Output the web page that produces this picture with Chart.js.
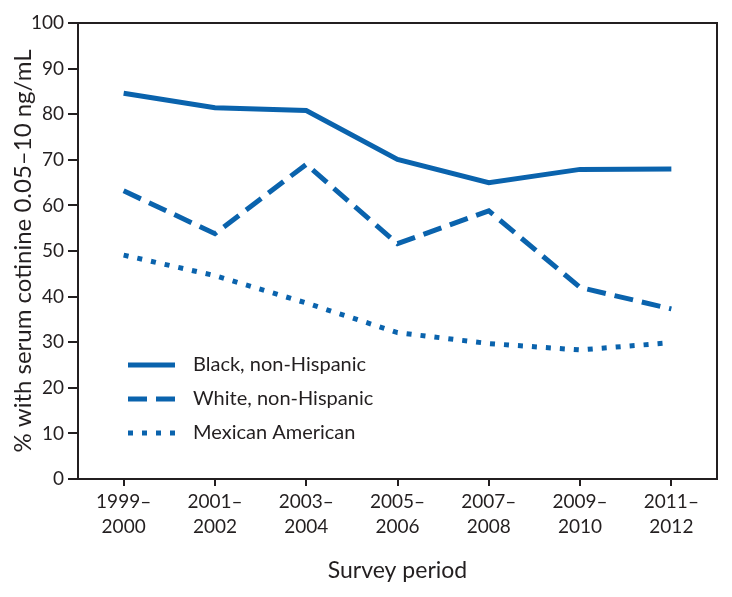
<!DOCTYPE html>
<html>
<head>
<meta charset="utf-8">
<script src="https://cdn.jsdelivr.net/npm/chart.js@4"></script>
<style>
  html, body { margin: 0; padding: 0; background: #fff; }
  #wrap { width: 732px; height: 597px; }
</style>
</head>
<body>
<div id="wrap"><canvas id="line-chart"></canvas></div>
<script>
const periods = [["1999–","2000"],["2001–","2002"],["2003–","2004"],["2005–","2006"],["2007–","2008"],["2009–","2010"],["2011–","2012"]];
const black = [84.6, 81.4, 80.8, 70.1, 65.0, 67.9, 68.0];
const white = [63.2, 53.8, 69.0, 51.6, 58.8, 42.0, 37.3];
const mexican = [49.1, 44.6, 38.6, 32.1, 29.7, 28.3, 29.9];

const blue = "#0a63ad";
const ink = "#231f20";
const fontFam = "Lato, 'Noto Sans', sans-serif";

// box round the plot area
const frame = {
  id: "frame",
  afterDraw(chart) {
    const a = chart.chartArea, c = chart.ctx;
    c.save();
    c.strokeStyle = ink;
    c.lineWidth = 2;
    c.strokeRect(a.left, a.top, a.right - a.left, a.bottom - a.top);
    c.restore();
  }
};

// legend drawn inside the plot, lower left
const innerLegend = {
  id: "innerLegend",
  afterDatasetsDraw(chart) {
    const a = chart.chartArea, c = chart.ctx;
    const x0 = a.left + 50, x1 = a.left + 97;
    let y = a.top + 342;
    c.save();
    c.font = "20px " + fontFam;
    c.textBaseline = "middle";
    chart.data.datasets.forEach(ds => {
      c.strokeStyle = ds.borderColor;
      c.lineWidth = ds.borderWidth;
      c.setLineDash(ds.borderDash || []);
      c.beginPath();
      c.moveTo(x0, y);
      c.lineTo(x1, y);
      c.stroke();
      c.fillStyle = ink;
      c.fillText(ds.label, x1 + 18, y);
      y += 34;
    });
    c.restore();
  }
};

new Chart(document.getElementById("line-chart"), {
  type: "line",
  data: {
    labels: periods,
    datasets: [
      { label: "Black, non-Hispanic", data: black, borderColor: blue, borderWidth: 5, pointRadius: 0, fill: false, tension: 0 },
      { label: "White, non-Hispanic", data: white, borderColor: blue, borderWidth: 5, borderDash: [19, 9], pointRadius: 0, fill: false, tension: 0 },
      { label: "Mexican American", data: mexican, borderColor: blue, borderWidth: 5, borderDash: [5, 9], pointRadius: 0, fill: false, tension: 0 }
    ]
  },
  options: {
    responsive: true,
    maintainAspectRatio: false,
    animation: false,
    layout: { padding: { top: 23, right: 15, left: 0, bottom: 9 } },
    plugins: {
      legend: { display: false },
      tooltip: { enabled: false }
    },
    scales: {
      x: {
        offset: true,
        grid: { display: true, drawOnChartArea: false, drawTicks: true, tickLength: 7, color: ink, lineWidth: 2, offset: false },
        border: { display: true, color: ink, width: 2 },
        ticks: { color: ink, font: { family: fontFam, size: 19, lineHeight: 1.3 }, maxRotation: 0, padding: 4 },
        title: { display: true, text: "Survey period", color: ink, font: { family: fontFam, size: 23 }, padding: { top: 13, bottom: 4 } }
      },
      y: {
        min: 0, max: 100,
        afterFit(scale) { scale.width = 78; },
        grid: { display: true, drawOnChartArea: false, drawTicks: true, tickLength: 10, color: ink, lineWidth: 2 },
        border: { display: true, color: ink, width: 2 },
        ticks: { stepSize: 10, color: ink, font: { family: fontFam, size: 19 }, padding: 4 },
        title: { display: true, text: "% with serum cotinine 0.05–10 ng/mL", color: ink, font: { family: fontFam, size: 24 }, padding: { top: 9, bottom: 0 } }
      }
    }
  },
  plugins: [frame, innerLegend]
});
</script>
</body>
</html>
